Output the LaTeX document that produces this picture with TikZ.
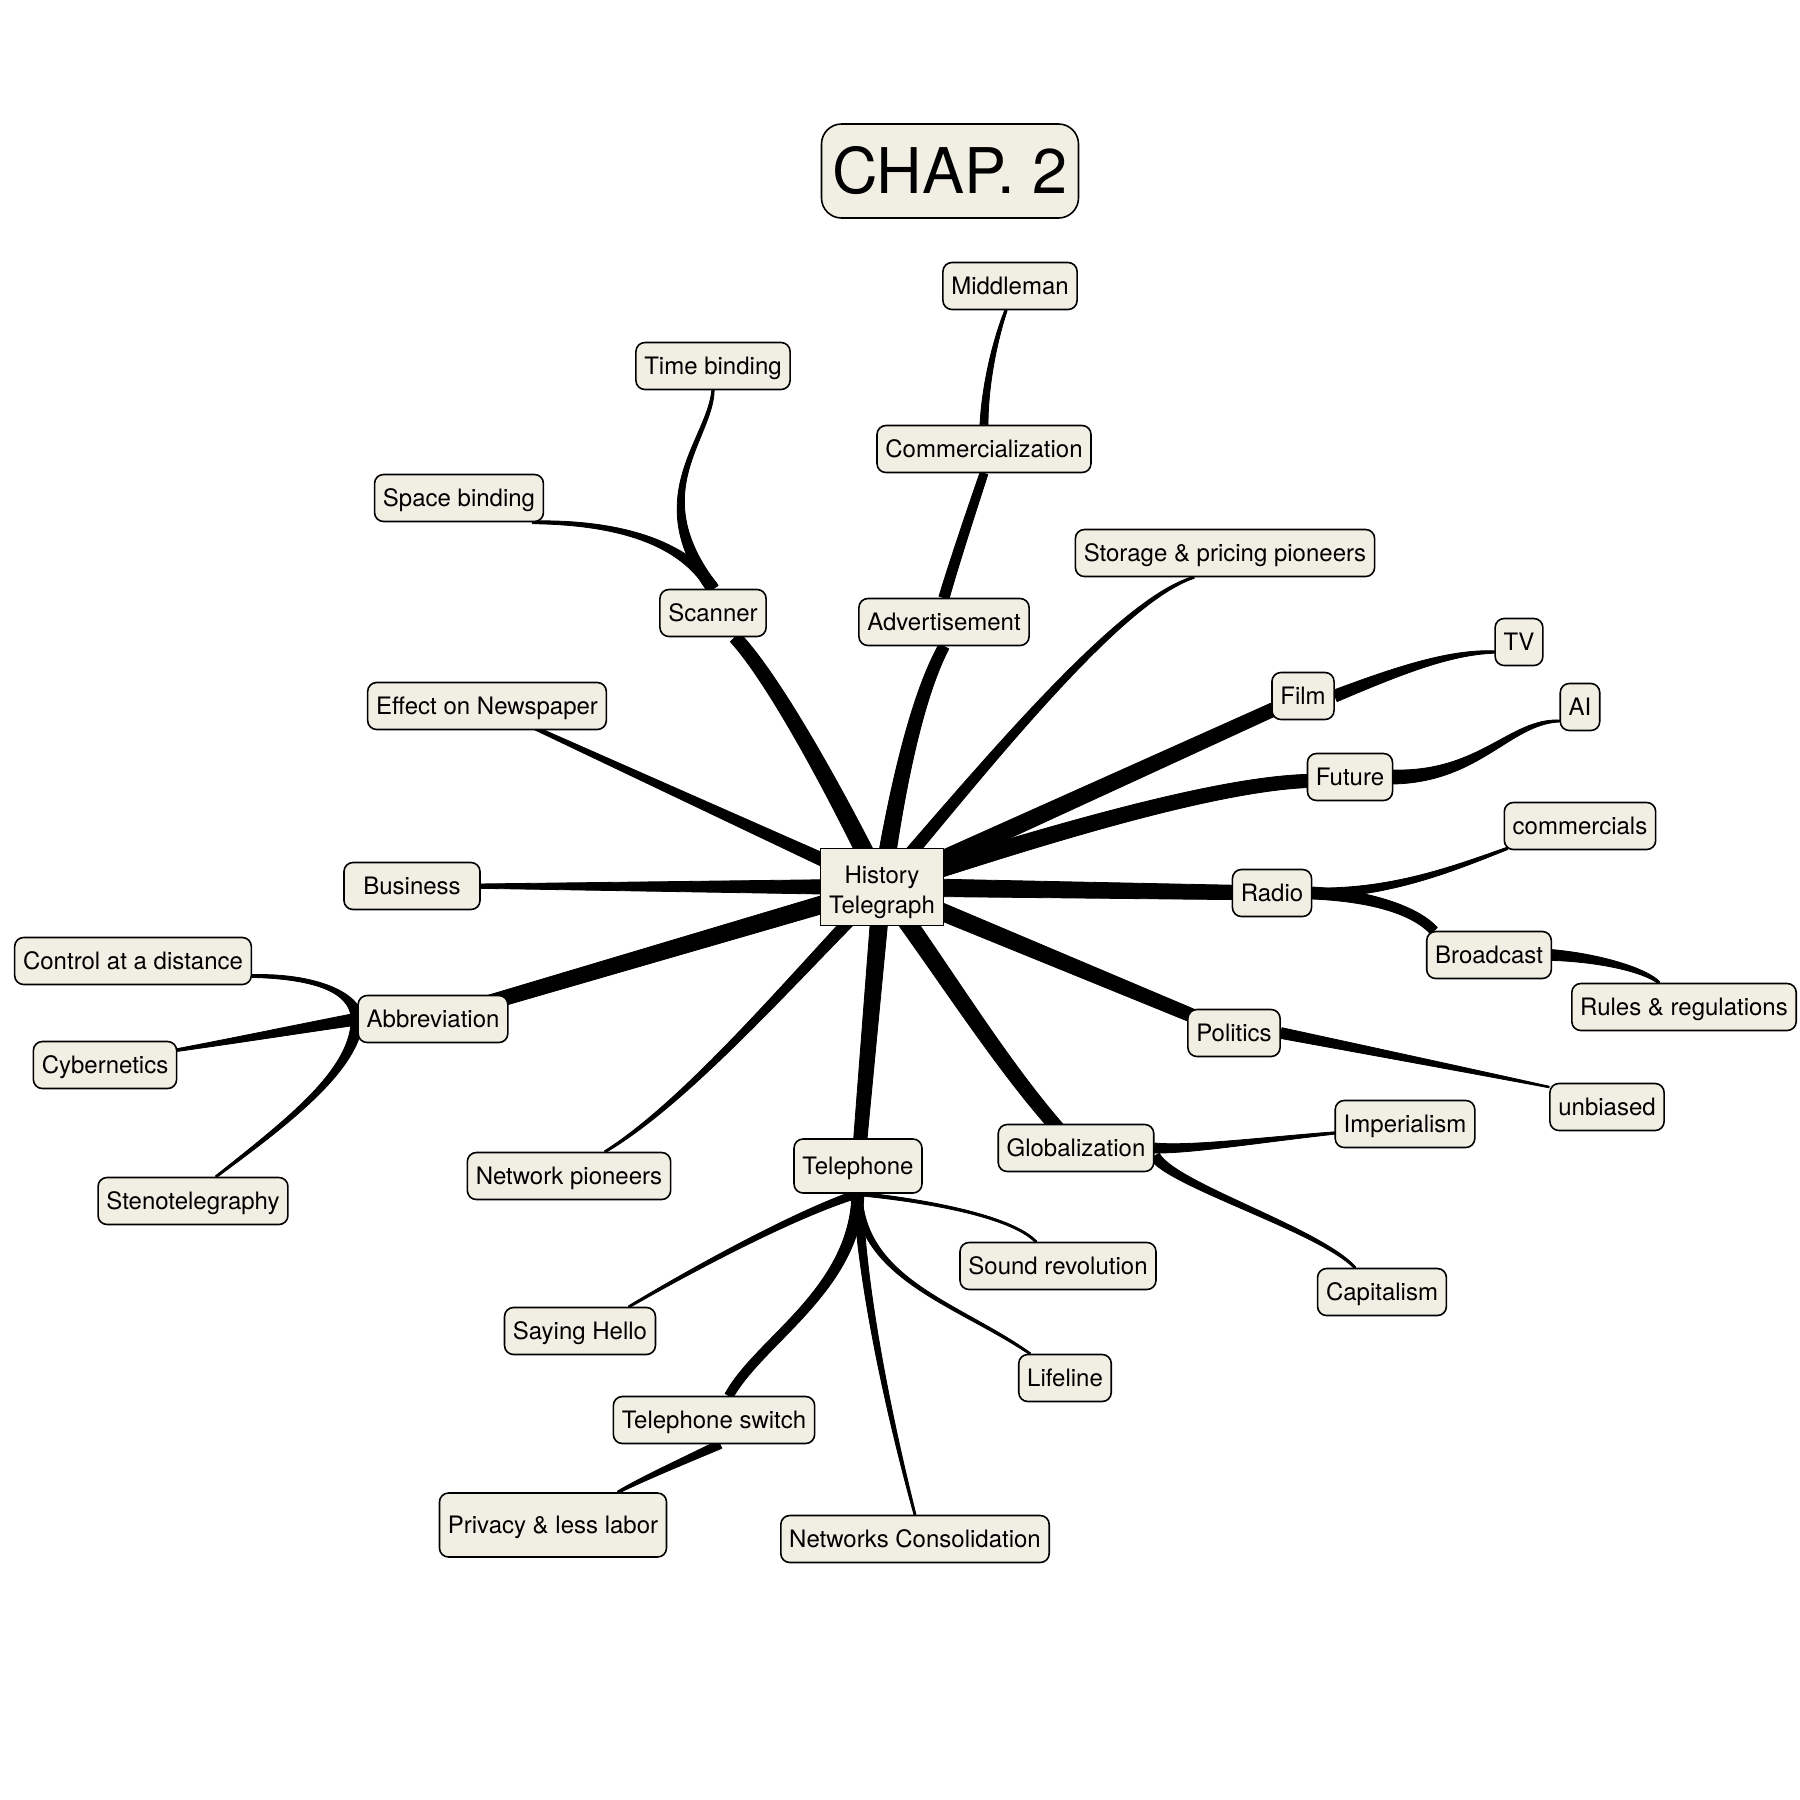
\documentclass[tikz,border=0pt]{standalone}
\usepackage{fontspec}
\setmainfont{TeX Gyre Heros}
\usetikzlibrary{calc, backgrounds}
\definecolor{topicfill}{RGB}{241,239,227}

% tapered branch: from, control 1, control 2, to, half width at start, half width at end (pt)
\newcommand{\taper}[6]{%
  \coordinate (b0) at (#1);
  \coordinate (b1) at (#2);
  \coordinate (b2) at (#3);
  \coordinate (b3) at (#4);
  \coordinate (u0) at ($(b0)!1pt!90:(b1)$);
  \coordinate (u3) at ($(b3)!1pt!-90:(b2)$);
  \coordinate (v0) at ($(u0)-(b0)$);
  \coordinate (v3) at ($(u3)-(b3)$);
  \filldraw[branch]
    ($(b0)+#5*(v0)$) .. controls ($(b1)+{(2*#5+#6)/3}*(v0)$) and ($(b2)+{(#5+2*#6)/3}*(v3)$) .. ($(b3)+#6*(v3)$)
    -- ($(b3)-#6*(v3)$) .. controls ($(b2)-{(#5+2*#6)/3}*(v3)$) and ($(b1)-{(2*#5+#6)/3}*(v0)$) .. ($(b0)-#5*(v0)$) -- cycle;
}

\begin{document}
\begin{tikzpicture}[
    x=0.5pt, y=-0.5pt,
    topic/.style={draw, line width=0.8pt, rounded corners=4.5pt, fill=topicfill,
        inner xsep=4.2pt, inner ysep=0pt, minimum height=23.5pt,
        text height=11.4pt, text depth=2.6pt, font=\fontsize{12}{14.5}\selectfont},
    hub/.style={draw, line width=0.8pt, fill=topicfill, inner sep=0pt,
        minimum width=61.5pt, minimum height=38.5pt, font=\fontsize{12}{15}\selectfont},
    title/.style={draw, line width=0.8pt, rounded corners=10pt, fill=topicfill,
        minimum width=128.5pt, minimum height=47pt, font=\fontsize{31.5}{36}\selectfont},
    branch/.style={line width=0.4pt, line join=round, fill=black, draw=black},
]
\useasboundingbox (0,0) rectangle (1800,1800);

% Title
\node[title] (chap) at (950,171) {CHAP. 2};

% Centre
\node[hub] (hist) at (882,887)
  {\raisebox{-2.6pt}[\height][\depth]{\begin{tabular}{@{}c@{}}History\\Telegraph\end{tabular}}};

% Upper half
\node[topic] (middleman) at (1010,286) {Middleman};
\node[topic] (timebind) at (713,366) {Time binding};
\node[topic] (commerc) at (984,449) {Commercialization};
\node[topic] (spacebind) at (459,498) {Space binding};
\node[topic] (storage) at (1225,553) {Storage \& pricing pioneers};
\node[topic] (scanner) at (713,613) {Scanner};
\node[topic] (advert) at (944,622) {Advertisement};
\node[topic] (tv) at (1519,642) {TV};
\node[topic] (film) at (1303,696) {Film};
\node[topic] (newspaper) at (487,706) {Effect on Newspaper};
\node[topic] (ai) at (1580,707) {AI};
\node[topic] (future) at (1350,777) {Future};
\node[topic] (commercials) at (1580,826) {commercials};
\node[topic, minimum width=68pt] (business) at (412,886) {Business};
\node[topic] (radio) at (1272,893) {Radio};
\node[topic] (broadcast) at (1489,955) {Broadcast};

% Lower half
\node[topic] (control) at (133,961) {Control at a distance};
\node[topic] (abbrev) at (433,1019) {Abbreviation};
\node[topic] (cyber) at (105,1065) {Cybernetics};
\node[topic] (rules) at (1684,1007) {Rules \& regulations};
\node[topic] (politics) at (1234,1033) {Politics};
\node[topic] (steno) at (193,1201) {Stenotelegraphy};
\node[topic] (unbiased) at (1607,1107) {unbiased};
\node[topic] (imperial) at (1405,1124) {Imperialism};
\node[topic] (global) at (1076,1148) {Globalization};
\node[topic] (netpion) at (569,1176) {Network pioneers};
\node[topic, minimum height=27pt] (telephone) at (858,1166) {Telephone};
\node[topic] (sound) at (1058,1266) {Sound revolution};
\node[topic] (capitalism) at (1382,1292) {Capitalism};
\node[topic] (hello) at (580,1331) {Saying Hello};
\node[topic] (lifeline) at (1065,1378) {Lifeline};
\node[topic] (switch) at (714,1420) {Telephone switch};
\node[topic, minimum height=32pt] (privacy) at (553,1525) {Privacy \& less labor};
\node[topic] (netcons) at (915,1539) {Networks Consolidation};

\begin{scope}[on background layer]
% Branches from the centre
\taper{hist.center}{840,800}{775,680}{$(scanner.south)+(22,0)$}{4.5}{3.2}
\taper{hist.center}{895,800}{915,700}{advert.south}{4.5}{2.7}
\taper{hist.center}{990,760}{1120,600}{$(storage.south)+(-31,0)$}{3.3}{0.5}
\taper{hist.center}{$(hist.center)!0.33!(film.center)$}{$(hist.center)!0.67!(film.center)$}{film.center}{4.5}{3.3}
\taper{hist.center}{1000,850}{1200,785}{$(future.west)+(0,4)$}{4.5}{3.3}
\taper{hist.center}{$(hist.center)!0.33!(radio.center)$}{$(hist.center)!0.67!(radio.center)$}{radio.center}{4.5}{3.5}
\taper{hist.center}{$(hist.center)!0.33!(politics.center)$}{$(hist.center)!0.67!(politics.center)$}{politics.center}{4.5}{3.2}
\taper{hist.center}{950,980}{1010,1080}{global.center}{4.5}{3.2}
\taper{hist.center}{$(hist.center)!0.33!(telephone.center)$}{$(hist.center)!0.67!(telephone.center)$}{telephone.center}{4.5}{3.2}
\taper{hist.center}{800,970}{690,1100}{$(netpion.north)+(36,0)$}{3.2}{0.5}
\taper{hist.center}{$(hist.center)!0.33!(abbrev.center)$}{$(hist.center)!0.67!(abbrev.center)$}{abbrev.center}{4.5}{3.5}
\taper{hist.center}{$(hist.center)!0.33!(business.center)$}{$(hist.center)!0.67!(business.center)$}{business.center}{4}{0.6}
\taper{hist.center}{$(hist.center)!0.33!(newspaper.center)$}{$(hist.center)!0.67!(newspaper.center)$}{newspaper.center}{3.7}{0.5}

% Second level
\taper{scanner.north}{642,495}{710,440}{timebind.south}{3}{0.6}
\taper{scanner.north}{688,548}{630,522}{$(spacebind.south east)+(-12,0)$}{3}{0.7}
\taper{advert.north}{955,560}{975,500}{commerc.south}{2.6}{2}
\taper{commerc.north}{985,385}{995,340}{$(middleman.south)+(-4,0)$}{2}{0.6}
\taper{film.east}{1400,670}{1450,652}{$(tv.west)+(0,10)$}{3}{0.6}
\taper{future.east}{1480,777}{1510,721}{$(ai.west)+(0,14)$}{3.5}{0.5}
\taper{radio.east}{1390,893}{1450,870}{$(commercials.south west)+(4,-2)$}{2.5}{0.6}
\taper{radio.east}{1370,896}{1415,910}{$(broadcast.north west)+(8,0)$}{3}{2.3}
\taper{broadcast.east}{1600,958}{1645,970}{$(rules.north)+(-25,0)$}{2.7}{0.6}
\taper{politics.east}{1371,1051}{1461,1069}{$(unbiased.west)+(0,-20)$}{2.7}{0.4}
\taper{global.east}{1190,1150}{1260,1140}{$(imperial.west)+(0,9)$}{2.5}{0.6}
\taper{$(global.east)+(0,8)$}{1172,1185}{1320,1230}{$(capitalism.north)+(-27,0)$}{2.7}{0.5}
\taper{abbrev.west}{355,990}{310,976}{$(control.east)+(0,15)$}{3}{0.7}
\taper{abbrev.west}{298,1029}{238,1040}{$(cyber.east)+(0,-15)$}{3}{0.7}
\taper{abbrev.west}{355,1070}{290,1120}{$(steno.north)+(23,0)$}{3}{0.5}
\taper{telephone.south}{920,1200}{1010,1215}{$(sound.north)+(-22,0)$}{0.9}{0.5}
\taper{telephone.south}{862,1280}{960,1305}{$(lifeline.north)+(-35,0)$}{2}{0.5}
\taper{telephone.south}{800,1212}{700,1265}{$(hello.north)+(49,0)$}{2}{0.5}
\taper{telephone.south}{855,1290}{760,1340}{$(switch.north)+(15,0)$}{3}{2.2}
\taper{telephone.south}{862,1290}{890,1420}{netcons.north}{2.3}{0.5}
\taper{$(switch.south)+(6,0)$}{690,1458}{640,1480}{$(privacy.north)+(65,0)$}{2.2}{0.6}
\end{scope}
\end{tikzpicture}
\end{document}
